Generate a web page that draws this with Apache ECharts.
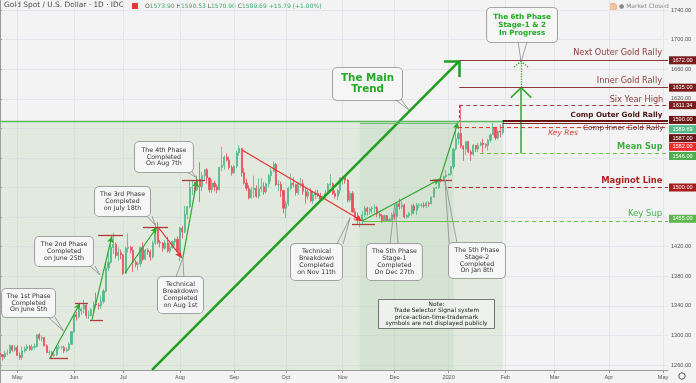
<!DOCTYPE html>
<html><head><meta charset="utf-8">
<script src="https://cdn.jsdelivr.net/npm/echarts@6/dist/echarts.min.js"></script>
<style>html,body{margin:0;padding:0;background:#f3f3f3}#c{width:696px;height:383px}</style>
</head><body><div id="c"></div>
<script>
// ---------- DATA ----------
// trading-day calendar (weekdays) from 2019-04-22, 272 slots (ends early May 2020)
const categories = [];
(function () {
  let t = Date.UTC(2019, 3, 22);
  while (categories.length < 272) {
    const d = new Date(t), w = d.getUTCDay();
    if (w !== 0 && w !== 6) categories.push(d.toISOString().slice(0, 10));
    t += 86400000;
  }
})();
const monthNames = ['Jan','Feb','Mar','Apr','May','Jun','Jul','Aug','Sep','Oct','Nov','Dec'];

// daily candles [open, close, low, high]
const candlesApr = [[1276,1274,1271,1278],[1274,1271,1266,1275],[1271,1276,1268,1279],[1276,1276,1273,1281],[1276,1286,1275,1288],[1286,1280,1278,1287],[1280,1284,1278,1287]];
const candlesMay = [[1284,1273,1272,1287],[1273,1270,1267,1277],[1270,1279,1267,1285],[1279,1282,1277,1285],[1282,1285,1279,1288],[1285,1281,1279,1287],[1281,1284,1279,1288],[1284,1285,1281,1289],[1285,1301,1284,1302],[1301,1296,1293,1303],[1296,1297,1292,1300],[1297,1286,1285,1298],[1286,1277,1276,1288],[1277,1277,1273,1280],[1277,1273,1269,1279],[1273,1274,1271,1277],[1274,1284,1272,1286],[1284,1284,1281,1287],[1284,1284,1281,1286],[1284,1279,1276,1286],[1279,1281,1277,1284],[1281,1288,1279,1291],[1288,1305,1287,1306]];
const candlesJun = [[1305,1328,1303,1329],[1328,1325,1320,1332],[1325,1333,1323,1336],[1333,1336,1328,1338],[1336,1341,1330,1348],[1341,1327,1323,1342],[1327,1327,1322,1334],[1327,1335,1326,1337],[1335,1342,1332,1346],[1342,1341,1339,1358],[1341,1340,1335,1344],[1340,1346,1336,1354],[1346,1360,1343,1363],[1360,1391,1358,1397],[1391,1399,1387,1411],[1399,1419,1397,1423],[1419,1423,1410,1439],[1423,1408,1404,1426],[1408,1412,1401,1419],[1412,1409,1403,1416]];
const candlesJul = [[1409,1384,1382,1410],[1384,1418,1383,1420],[1418,1419,1412,1438],[1419,1415,1411,1421],[1415,1399,1386,1420],[1399,1396,1392,1402],[1396,1397,1388,1400],[1397,1419,1393,1420],[1419,1403,1401,1426],[1403,1415,1402,1417],[1415,1413,1409,1418],[1413,1406,1401,1416],[1406,1425,1404,1428],[1425,1445,1422,1452],[1445,1426,1423,1453],[1426,1425,1419,1429],[1425,1418,1413,1426],[1418,1425,1416,1429],[1425,1414,1412,1433],[1414,1419,1411,1424],[1419,1427,1417,1428],[1427,1430,1421,1432],[1430,1413,1411,1434]];
const candlesAug = [[1413,1445,1400,1447],[1445,1440,1431,1448],[1440,1464,1438,1475],[1464,1474,1457,1475],[1474,1500,1472,1510],[1500,1500,1490,1510],[1500,1497,1491,1508],[1497,1511,1495,1516],[1511,1501,1480,1534],[1501,1516,1495,1521],[1516,1524,1510,1525],[1524,1513,1505,1526],[1513,1497,1493,1514],[1497,1506,1493,1511],[1506,1501,1495,1509],[1501,1497,1492,1504],[1497,1527,1496,1528],[1527,1530,1522,1555],[1530,1541,1524,1543],[1541,1537,1535,1546],[1537,1527,1524,1542],[1527,1520,1516,1530]];
const candlesSep = [[1520,1529,1518,1530],[1529,1547,1526,1550],[1547,1553,1543,1557],[1553,1520,1515,1553],[1520,1506,1504,1526],[1506,1499,1495,1512],[1499,1486,1484,1503],[1486,1497,1485,1501],[1497,1499,1486,1516],[1499,1488,1486,1503],[1488,1498,1485,1512],[1498,1501,1494,1513],[1501,1494,1490,1507],[1494,1505,1492,1507],[1505,1516,1500,1518],[1516,1522,1508,1526],[1522,1531,1520,1535],[1531,1504,1502,1533],[1504,1504,1495,1510],[1504,1496,1487,1508],[1496,1472,1465,1497]];
const candlesOct = [[1472,1478,1459,1482],[1478,1499,1475,1501],[1499,1506,1496,1519],[1506,1504,1500,1514],[1504,1493,1489,1505],[1493,1505,1490,1507],[1505,1505,1500,1513],[1505,1495,1490,1511],[1495,1488,1478,1500],[1488,1494,1484,1497],[1494,1482,1480,1499],[1482,1490,1478,1495],[1490,1492,1484,1497],[1492,1489,1487,1497],[1489,1484,1481,1493],[1484,1488,1482,1489],[1488,1492,1485,1497],[1492,1504,1490,1506],[1504,1505,1500,1518],[1505,1492,1490,1507],[1492,1488,1485,1496],[1488,1496,1483,1498],[1496,1513,1491,1514]];
const candlesNov = [[1513,1514,1504,1516],[1514,1510,1505,1516],[1510,1483,1480,1511],[1483,1492,1480,1495],[1492,1467,1466,1495],[1467,1459,1456,1472],[1459,1456,1450,1466],[1456,1456,1446,1461],[1456,1463,1450,1468],[1463,1472,1460,1475],[1472,1468,1462,1474],[1468,1471,1464,1473],[1471,1472,1465,1475],[1472,1473,1465,1477],[1473,1464,1460,1475],[1464,1462,1458,1468],[1462,1455,1452,1464],[1455,1462,1453,1463],[1462,1455,1454,1463],[1455,1457,1453,1459],[1457,1463,1454,1466]];
const candlesDec = [[1463,1461,1456,1466],[1461,1478,1459,1479],[1478,1474,1470,1485],[1474,1476,1471,1482],[1476,1460,1458,1478],[1460,1462,1458,1464],[1462,1465,1459,1467],[1465,1475,1462,1477],[1475,1469,1464,1478],[1469,1476,1463,1479],[1476,1476,1472,1479],[1476,1476,1473,1479],[1476,1475,1472,1480],[1475,1479,1472,1481],[1479,1478,1474,1481],[1478,1487,1477,1488],[1487,1499,1486,1500],[1499,1500,1498,1501],[1500,1511,1498,1512],[1511,1510,1507,1514],[1510,1515,1508,1516],[1515,1517,1513,1524]];
const candlesJan = [[1517,1518,1516,1519],[1518,1528,1516,1529],[1528,1552,1525,1553],[1552,1566,1550,1582],[1566,1573,1558,1576],[1573,1556,1553,1611],[1556,1552,1536,1557],[1552,1562,1544,1563],[1562,1548,1546,1563],[1548,1545,1536,1551],[1545,1557,1543,1559],[1557,1552,1548,1557],[1552,1557,1548,1560],[1557,1560,1556,1562],[1560,1558,1547,1566],[1558,1557,1553,1560],[1557,1564,1550,1566],[1564,1571,1561,1573],[1571,1581,1571,1588],[1581,1567,1564,1582],[1567,1576,1565,1578],[1576,1575,1568,1585],[1574,1590,1571,1591]];
const candles = [].concat(candlesApr, candlesMay, candlesJun, candlesJul, candlesAug, candlesSep, candlesOct, candlesNov, candlesDec, candlesJan);

// price levels (right side)
const levelNames  = ['Next Outer Gold Rally','Inner Gold Rally','Six Year High','Comp Outer Gold Rally','Comp Inner Gold Rally','Key Res','Mean Sup','Maginot Line','Key Sup'];
const levelValues = [1672, 1635, 1611.34, 1590, 1587, 1582, 1546, 1500, 1455];
const lastClose = 1589.69;
const yTicks = [1260,1300,1340,1380,1420,1460,1500,1540,1580,1620,1660,1700,1740];
const L = {}; levelNames.forEach((n, i) => L[n] = levelValues[i]);

// ---------- ANNOTATIONS (data coordinates: trading-day index, price) ----------
const lastIdx = 271, lastBar = candles.length - 1;
const GREEN = '#2ea82e', RED = '#e8312f', MRK = '#b23a3a', GREY = '#8a8a8a', LVL = '#8c3b3b';
function seg(a, b, color, width, type, arrow) {
  return [
    { coord: a, symbol: 'none', lineStyle: { color: color, width: width, type: type || 'solid' } },
    { coord: b, symbol: arrow ? 'arrow' : 'none', symbolSize: arrow ? [5, 7] : 0 }
  ];
}
const lines = [];
// phase arrows
lines.push(seg([20,1269.5],[27.6,1269.5],MRK,1.3));
lines.push(seg([20.3,1269.5],[32.5,1343.9],GREEN,1.2,'solid',true));
lines.push(seg([30.4,1343.9],[35.7,1343.9],MRK,1.3));
lines.push(seg([36.5,1320.9],[41.8,1320.9],MRK,1.3));
lines.push(seg([37.3,1320.9],[45.4,1434.4],GREEN,1.2,'solid',true));
lines.push(seg([39.8,1435.8],[49.9,1435.8],MRK,1.3));
lines.push(seg([50.7,1384.4],[63.7,1446.6],GREEN,1.2,'solid',true));
lines.push(seg([58,1446.6],[68.2,1446.6],MRK,1.3));
lines.push(seg([64.1,1446.6],[73.8,1404.7],RED,1.2,'solid',true));
lines.push(seg([74.2,1404.7],[79.9,1510.1],GREEN,1.2,'solid',true));
lines.push(seg([73.8,1510.1],[83.2,1510.1],MRK,1.3));
lines.push(seg([98.2,1550.7],[146.9,1454.7],RED,1.2,'solid',true));
lines.push(seg([142.8,1450.6],[152.1,1450.6],MRK,1.3));
lines.push(seg([146.9,1454.7],[178.5,1511.4],GREEN,1.2,'solid',true));
lines.push(seg([174.4,1510.1],[183.4,1510.1],MRK,1.3));
lines.push(seg([178.5,1511.4],[185.8,1588.5],GREEN,1.2,'solid',true));
// main trend
lines.push(seg([61.7,1253.3],[186.3,1671],'#1f9e1f',2.5));
lines.push(seg([180.1,1671],[186.3,1671],'#1f9e1f',2.5));
lines.push(seg([186.3,1671],[186.3,1649.4],'#1f9e1f',2.5));
// 6th phase vertical arrow
lines.push(seg([211.4,L['Mean Sup']],[211.4,L['Inner Gold Rally']],GREEN,1.5));
lines.push(seg([207.3,1621.5],[211.4,L['Inner Gold Rally']],GREEN,1.5));
lines.push(seg([215.5,1621.5],[211.4,L['Inner Gold Rally']],GREEN,1.5));
lines.push(seg([211.4,L['Inner Gold Rally']],[211.4,1670],GREEN,1.3,'dotted'));
lines.push(seg([208.6,1663],[211.4,1670.5],GREEN,1.3,'dotted'));
lines.push(seg([214.2,1663],[211.4,1670.5],GREEN,1.3,'dotted'));
// callout pointers
const pointers = [
  [[19.5,1324.9],[22.3,1324.9],[25.7,1306.0]],
  [[36.5,1393.9],[38.5,1393.9],[40.6,1381.7]],
  [[59.6,1461.5],[61.7,1461.5],[62.9,1449.3]],
  [[75.9,1521.0],[77.9,1521.0],[79.9,1512.8]],
  [[71.4,1379.0],[74.6,1379.0],[74.2,1404.7]],
  [[136.7,1423.6],[139.2,1423.6],[142.0,1458.8]],
  [[158.2,1423.6],[161.5,1423.6],[160.2,1479.0]],
  [[182.2,1425.0],[185.4,1425.0],[180.5,1510.1]],
  [[159.5,1621.0],[162.3,1621.0],[165.9,1604.8]],
  [[210.2,1696.7],[213.8,1696.7],[211.4,1669.7]]
];
pointers.forEach(p => { lines.push(seg(p[0], p[2], GREY, 0.8)); lines.push(seg(p[1], p[2], GREY, 0.8)); });

// level lines with labels
const FF = 'DejaVu Sans';
function lvl(name, x0, color, width, type, lab) {
  const s = seg([x0, L[name]], [lastIdx, L[name]], color, width, type);
  if (lab) s[0].label = Object.assign({ show: true, formatter: name, fontFamily: FF, padding: [0, 3, 0, 0] }, lab);
  return s;
}
lines.push(lvl('Next Outer Gold Rally', 186.3, LVL, 1, 'solid', { position: 'insideEndTop', distance: 3, color: '#8c3b3b', fontSize: 8.2 }));
lines.push(lvl('Inner Gold Rally', 186.3, LVL, 1, 'solid', { position: 'insideEndTop', distance: 3, color: '#8c3b3b', fontSize: 8.2 }));
lines.push(lvl('Six Year High', 186.3, '#a04040', 1, [4, 3], { position: 'insideEndTop', distance: 1.7, color: '#8c3b3b', fontSize: 8.2 }));
lines.push(seg([186.3, L['Six Year High']], [186.3, L['Comp Outer Gold Rally']], '#a04040', 1, [3, 2]));
lines.push(seg([0, L['Comp Outer Gold Rally']], [lastBar, L['Comp Outer Gold Rally']], '#5cb85c', 1.3));
lines.push(seg([146, 1586.5], [186, 1586.5], '#6cc06c', 1));
lines.push(lvl('Comp Outer Gold Rally', lastBar, '#6b1515', 2, 'solid', { position: 'insideEndTop', distance: 2.5, color: '#4a1515', fontSize: 7.2, fontWeight: 'bold' }));
lines.push(lvl('Comp Inner Gold Rally', lastBar, '#7a2020', 1, 'solid', { position: 'insideEndBottom', distance: 1.5, color: '#6a3030', fontSize: 7.2 }));
lines.push(lvl('Key Res', 185.8, '#e53935', 1, [4, 3], { position: 'insideEndBottom', distance: 2, color: '#e53935', fontSize: 7.5, fontStyle: 'italic', padding: [0, 88, 0, 0] }));
lines.push(lvl('Mean Sup', 194.7, '#6cc04a', 1, [4, 3], { position: 'insideEndTop', distance: 2.5, color: '#3fae3f', fontSize: 8.2, fontWeight: 'bold' }));
lines.push(lvl('Maginot Line', 181.7, '#b22222', 1, [4, 3], { position: 'insideEndTop', distance: 2.5, color: '#b22222', fontSize: 8.4, fontWeight: 'bold' }));
lines.push(seg([146.9, L['Key Sup']], [184.6, L['Key Sup']], '#6cc04a', 1));
lines.push(lvl('Key Sup', 184.6, '#6cc04a', 1, [4, 3], { position: 'insideEndTop', distance: 2.8, color: '#4cae4c', fontSize: 8.5 }));

// callout boxes
const boxStyle = { backgroundColor: '#f6f6f6', borderColor: '#8c8c8c', borderWidth: 0.8, borderRadius: 4, color: '#333', fontSize: 6.3, lineHeight: 6.8 };
function box(c, w, h, text, st) {
  return { coord: c, symbol: 'rect', symbolSize: 1, itemStyle: { color: 'rgba(0,0,0,0)' },
    label: Object.assign({ show: true, position: 'inside', formatter: text, width: w, height: h, align: 'center', verticalAlign: 'middle', fontFamily: FF, padding: 0 }, boxStyle, st || {}) };
}
const points = [
  box([11.6,1343.8], 53, 28, 'The 1st Phase\nCompleted\nOn June 5th'),
  box([26.0,1413.5], 58, 29, 'The 2nd Phase\nCompleted\non June 25th'),
  box([49.7,1481.1], 55, 29, 'The 3rd Phase\nCompleted\non July 18th'),
  box([66.5,1541.2], 58, 30, 'The 4th Phase\nCompleted\nOn Aug 7th'),
  box([73.2,1354.7], 45, 36, 'Technical\nBreakdown\nCompleted\non Aug 1st'),
  box([128.4,1399.3], 51, 36, 'Technical\nBreakdown\nCompleted\non Nov 11th'),
  box([160.0,1399.3], 55, 36, 'The 5th Phase\nStage-1\nCompleted\nOn Dec 27th'),
  box([193.5,1401.3], 56, 35, 'The 5th Phase\nStage-2\nCompleted\nOn Jan 8th'),
  box([149.1,1639.9], 69, 32, 'The Main\nTrend', { color: '#22aa22', fontSize: 10.3, lineHeight: 11, fontWeight: 'bold' }),
  box([211.8,1719.7], 70, 34, 'The 6th Phase\nStage-1 & 2\nIn Progress', { color: '#22aa22', fontSize: 7.2, lineHeight: 7.7, fontWeight: 'bold' }),
  box([177.1,1329.0], 115, 28, 'Note:\nTrade Selector Signal system\nprice-action-time-trademark\nsymbols are not displayed publicly', { backgroundColor: '#eef1ed', borderColor: '#555', borderRadius: 0, color: '#222', fontSize: 5.9, lineHeight: 6.3 })
];
// axis price tags
function tag(v, bg, dy) {
  return { coord: [lastIdx, v], symbol: 'rect', symbolSize: [27, 8], symbolOffset: [14.5, dy], itemStyle: { color: bg },
    label: { show: true, position: 'inside', formatter: v.toFixed(2), color: '#fff', fontSize: 5.6, fontFamily: 'Liberation Sans' } };
}
points.push(tag(L['Next Outer Gold Rally'], '#7b1c1c', 0));
points.push(tag(L['Inner Gold Rally'], '#7b1c1c', 0));
points.push(tag(L['Six Year High'], '#7b1c1c', 0));
points.push(tag(L['Comp Outer Gold Rally'], '#6b1515', -1));
points.push(tag(lastClose, '#53b987', 8));
points.push(tag(L['Comp Inner Gold Rally'], '#6b1515', 15));
points.push(tag(L['Key Res'], '#ee2b2b', 20));
points.push(tag(L['Mean Sup'], '#4cae4c', 2.5));
points.push(tag(L['Maginot Line'], '#a51d1d', 0));
points.push(tag(L['Key Sup'], '#5cb84c', -2));

function isMonthStart(i) { return i > 0 && categories[i].slice(5, 7) !== categories[i - 1].slice(5, 7); }

const chart = echarts.init(document.getElementById('c'));
chart.setOption({
  backgroundColor: '#f3f3f3',
  animation: false,
  grid: { left: 0, right: 28, top: -4.79, bottom: -11.58, containLabel: false, outerBoundsMode: 'none' },
  xAxis: [{
    type: 'category', data: categories, boundaryGap: false, offset: -24.58,
    axisLine: { lineStyle: { color: '#9a9a9a' } },
    axisTick: { interval: isMonthStart, length: 3, lineStyle: { color: '#9a9a9a' } },
    axisLabel: { interval: isMonthStart, fontSize: 5.6, color: '#555', margin: 4, fontFamily: 'Liberation Sans',
      formatter: v => { const m = +v.slice(5, 7); return m === 1 ? v.slice(0, 4) : monthNames[m - 1]; } },
    splitLine: { show: true, interval: isMonthStart, lineStyle: { color: '#e2e7ed', width: 1 } }
  }, {
    type: 'value', min: 0, max: lastIdx, show: false, splitLine: { show: false }
  }],
  yAxis: {
    type: 'value', position: 'right', min: 1220, max: 1760, interval: 40,
    axisLine: { show: true, lineStyle: { color: '#9a9a9a' } },
    axisTick: { show: true, length: 2, lineStyle: { color: '#9a9a9a' } },
    axisLabel: { fontSize: 5.6, color: '#555', margin: 3, fontFamily: 'Liberation Sans',
      formatter: v => yTicks.indexOf(v) >= 0 ? v.toFixed(2) : '' },
    splitLine: { lineStyle: { color: '#e2e7ed', width: 1 } }
  },
  series: [
    { type: 'line', xAxisIndex: 1, data: [], z: 1, silent: true,
      markArea: { silent: true, data: [
        [{ coord: [0, 1253.3], itemStyle: { color: 'rgba(170,205,160,0.22)' } }, { coord: [lastBar, L['Comp Outer Gold Rally']] }],
        [{ coord: [146, 1253.3], itemStyle: { color: 'rgba(150,190,140,0.16)' } }, { coord: [184, 1586.5] }]
      ] } },
    { type: 'candlestick', xAxisIndex: 0, data: candles, z: 3, barWidth: 1.6, silent: true,
      itemStyle: { color: '#53b987', color0: '#eb4d5c', borderColor: '#53b987', borderColor0: '#eb4d5c', borderWidth: 0.8 } },
    { type: 'line', xAxisIndex: 1, data: [], z: 5, silent: true,
      markLine: { silent: true, symbol: ['none', 'none'], animation: false, label: { show: false }, data: lines },
      markPoint: { silent: true, animation: false, data: points } }
  ],
  graphic: [
    { type: 'rect', left: 0, top: 371, z: 0, shape: { width: 668, height: 12 }, style: { fill: '#f3f3f3' } },
    { type: 'text', left: 4, top: 2, style: { text: 'Gold Spot / U.S. Dollar · 1D · IDC', fill: '#4a4a4a', font: '7.4px "DejaVu Sans"' } },
    { type: 'rect', left: 132, top: 3, shape: { width: 6, height: 6 }, style: { fill: '#e53935' } },
    { type: 'text', left: 145, top: 3, style: { rich: { k: { fill: '#555', font: '6px "DejaVu Sans"' }, g: { fill: '#3fae6f', font: '6px "DejaVu Sans"' } },
      text: '{k|O}{g|1573.90 }{k|H}{g|1590.53 }{k|L}{g|1570.90 }{k|C}{g|1589.69 +15.79 (+1.00%)}' } },
    { type: 'circle', shape: { cx: 613, cy: 7, r: 3.8 }, style: { fill: '#f9c3a0', stroke: '#f2a070', lineWidth: 0.8 } },
    { type: 'text', left: 619, top: 3.5, style: { text: '● Market Closed', fill: '#888', font: '6px "DejaVu Sans"' } },
    { type: 'circle', shape: { cx: 682, cy: 376, r: 3.2 }, style: { fill: 'none', stroke: '#555', lineWidth: 1 } }
  ]
});
</script>
</body></html>
